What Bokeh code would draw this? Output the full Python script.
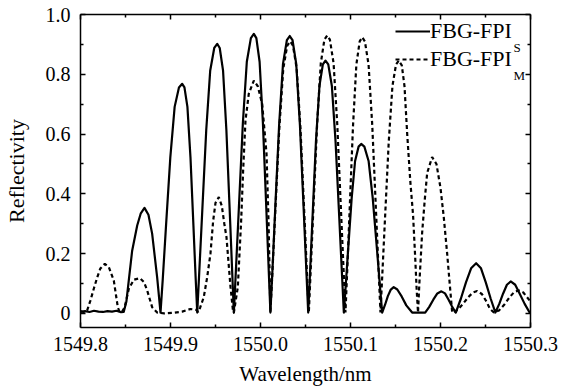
from bokeh.plotting import figure
from bokeh.models import Range1d, LinearAxis, FixedTicker, Legend, LegendItem, Label, CustomJSTickFormatter
from bokeh.embed import file_html
from bokeh.resources import INLINE

# ---- data ----
wl_s = [1549.800, 1549.805, 1549.810, 1549.815, 1549.820, 1549.825, 1549.830, 1549.835, 1549.840, 1549.845,
        1549.848, 1549.851, 1549.854, 1549.8574, 1549.863, 1549.867, 1549.8711, 1549.8755, 1549.8796, 1549.8852, 1549.8889,
        1549.8914, 1549.895, 1549.8998, 1549.9046, 1549.9094, 1549.913, 1549.9155, 1549.9188, 1549.9222, 1549.9255, 1549.928, 1549.9297,
        1549.9319, 1549.9353, 1549.9397, 1549.9441, 1549.9486, 1549.9519, 1549.9547, 1549.9584, 1549.9621, 1549.9658, 1549.9686, 1549.9704,
        1549.9726, 1549.976, 1549.9804, 1549.9848, 1549.9893, 1549.9926, 1549.9954, 1549.999, 1550.0027, 1550.0064, 1550.0092, 1550.011,
        1550.0132, 1550.0164, 1550.0207, 1550.025, 1550.0293, 1550.0325, 1550.0356, 1550.0397, 1550.0438, 1550.0479, 1550.051, 1550.053,
        1550.0549, 1550.0578, 1550.0616, 1550.0655, 1550.0693, 1550.0722, 1550.0753, 1550.0793, 1550.0834, 1550.0875, 1550.0906, 1550.0926,
        1550.0945, 1550.0974, 1550.1013, 1550.1051, 1550.109, 1550.1119, 1550.1154, 1550.1201, 1550.1247, 1550.1294, 1550.1329, 1550.1352,
        1550.1385, 1550.1415, 1550.1448, 1550.148, 1550.152, 1550.157, 1550.162, 1550.1685, 1550.175, 1550.183,
        1550.1875, 1550.192, 1550.1965, 1550.201, 1550.205, 1550.209, 1550.213, 1550.217,
        1550.2227, 1550.2283, 1550.234, 1550.2396, 1550.245, 1550.2503, 1550.2557, 1550.261,
        1550.2653, 1550.2695, 1550.2738, 1550.278, 1550.283, 1550.288, 1550.2935, 1550.299, 1550.300]
r_s = [0.005, 0.008, 0.005, 0.009, 0.006, 0.005, 0.008, 0.006, 0.009, 0.004,
       0.005, 0.04, 0.12, 0.21, 0.294, 0.335, 0.353, 0.33, 0.267, 0.12, 0.003,
       0.115, 0.292, 0.522, 0.691, 0.756, 0.768, 0.756, 0.691, 0.522, 0.292, 0.115, 0.003,
       0.135, 0.343, 0.613, 0.812, 0.888, 0.902, 0.888, 0.812, 0.613, 0.343, 0.135, 0.003,
       0.140, 0.355, 0.636, 0.842, 0.921, 0.935, 0.921, 0.842, 0.636, 0.355, 0.140, 0.003,
       0.139, 0.353, 0.631, 0.835, 0.914, 0.928, 0.914, 0.835, 0.631, 0.353, 0.139, 0.003,
       0.127, 0.321, 0.575, 0.761, 0.833, 0.846, 0.833, 0.761, 0.575, 0.321, 0.127, 0.003,
       0.085, 0.215, 0.386, 0.510, 0.558, 0.567, 0.558, 0.510, 0.386, 0.215, 0.085, 0.003,
       0.03, 0.058, 0.08, 0.088, 0.08, 0.056, 0.027, 0.003, 0.003, 0.003,
       0.022, 0.046, 0.067, 0.074, 0.067, 0.046, 0.022, 0.003,
       0.05, 0.104, 0.151, 0.168, 0.151, 0.104, 0.05, 0.003,
       0.032, 0.066, 0.096, 0.107, 0.096, 0.066, 0.032, 0.003, 0.003]

wl_m = [1549.800, 1549.804, 1549.8074,
        1549.811, 1549.815, 1549.8185, 1549.822, 1549.827, 1549.8315, 1549.837, 1549.8395, 1549.8415, 1549.8435,
        1549.8455, 1549.849, 1549.8537, 1549.8593, 1549.866, 1549.8705, 1549.8741, 1549.8796, 1549.8852,
        1549.893, 1549.903, 1549.913, 1549.922, 1549.9285, 1549.931,
        1549.933, 1549.937, 1549.9407, 1549.9444, 1549.9474, 1549.950, 1549.9537, 1549.957, 1549.9598, 1549.9622, 1549.9667, 1549.9696,
        1549.9704, 1549.9748, 1549.9785, 1549.9807, 1549.9833, 1549.987, 1549.9926, 1549.997, 1550.0019, 1550.0067, 1550.009, 1550.011,
        1550.0132, 1550.0165, 1550.0209, 1550.0253, 1550.0297, 1550.033, 1550.0361, 1550.0402, 1550.0444, 1550.0485, 1550.0516, 1550.0537,
        1550.0557, 1550.0588, 1550.0629, 1550.067, 1550.071, 1550.0741, 1550.0771, 1550.0812, 1550.0853, 1550.0893, 1550.0924, 1550.0944,
        1550.0963, 1550.0991, 1550.1028, 1550.1065, 1550.1102, 1550.113, 1550.116, 1550.1201, 1550.1242, 1550.1282, 1550.1313, 1550.1333,
        1550.1353, 1550.1384, 1550.1425, 1550.1466, 1550.1506, 1550.1537, 1550.157, 1550.160, 1550.163, 1550.1665, 1550.1695, 1550.172, 1550.1735, 1550.175,
        1550.1765, 1550.1796, 1550.1825, 1550.1852, 1550.1907, 1550.1955, 1550.200, 1550.2037, 1550.2074, 1550.2105, 1550.213,
        1550.2148, 1550.219, 1550.225, 1550.231, 1550.236, 1550.2407, 1550.246, 1550.251, 1550.255, 1550.2593,
        1550.265, 1550.271, 1550.277, 1550.282, 1550.287, 1550.292, 1550.296, 1550.300]
r_m = [0.008, 0.005, 0.01,
       0.043, 0.085, 0.12, 0.15, 0.166, 0.155, 0.11, 0.06, 0.02, 0.005,
       0.003, 0.02, 0.083, 0.113, 0.118, 0.105, 0.077, 0.021, 0.003,
       0.0, 0.002, 0.006, 0.015, 0.012, 0.005,
       0.02, 0.055, 0.12, 0.2, 0.31, 0.37, 0.389, 0.36, 0.3, 0.255, 0.088, 0.003,
       0.003, 0.088, 0.31, 0.478, 0.645, 0.735, 0.779, 0.76, 0.70, 0.534, 0.3, 0.003,
       0.137, 0.346, 0.619, 0.819, 0.896, 0.91, 0.896, 0.819, 0.619, 0.346, 0.137, 0.003,
       0.14, 0.353, 0.632, 0.837, 0.916, 0.93, 0.916, 0.837, 0.632, 0.353, 0.14, 0.003,
       0.139, 0.351, 0.628, 0.832, 0.910, 0.924, 0.910, 0.832, 0.628, 0.351, 0.139, 0.003,
       0.127, 0.321, 0.575, 0.761, 0.833, 0.846, 0.83, 0.76, 0.6, 0.44, 0.33, 0.18, 0.08, 0.003,
       0.1, 0.27, 0.38, 0.47, 0.523, 0.5, 0.42, 0.32, 0.2, 0.09, 0.003,
       0.004, 0.012, 0.032, 0.055, 0.07, 0.075, 0.065, 0.04, 0.015, 0.003,
       0.01, 0.03, 0.055, 0.072, 0.077, 0.07, 0.055, 0.04]

x_ticks = [1549.8, 1549.9, 1550.0, 1550.1, 1550.2, 1550.3]
x_tick_labels = ["1549.8", "1549.9", "1550.0", "1550.1", "1550.2", "1550.3"]
x_minor = [1549.85, 1549.95, 1550.05, 1550.15, 1550.25]
y_ticks = [0, 0.2, 0.4, 0.6, 0.8, 1.0]
y_tick_labels = ["0", "0.2", "0.4", "0.6", "0.8", "1.0"]
y_minor = [0.1, 0.3, 0.5, 0.7, 0.9]
series_names = ["FBG-FPI", "FBG-FPI"]
subscripts = ["S", "M"]
x_label = "Wavelength/nm"
y_label = "Reflectivity"

FONT = "Liberation Serif"

p = figure(width=564, height=392, output_backend="svg", toolbar_location=None,
           x_range=Range1d(1549.8, 1550.3), y_range=Range1d(-0.047, 1.0),
           min_border_left=80, min_border_right=34, min_border_top=14, min_border_bottom=65,
           background_fill_color="white", border_fill_color="white")
p.outline_line_color = None
p.grid.visible = False

xt = FixedTicker(ticks=x_ticks, minor_ticks=x_minor)
yt = FixedTicker(ticks=y_ticks, minor_ticks=y_minor)

LOOKUP = "const k = vals.findIndex(v => Math.abs(v - tick) < 1e-6); return k >= 0 ? labs[k] : '';"

xa = p.xaxis[0]
ya = p.yaxis[0]
xa.ticker = xt
ya.ticker = yt
xa.formatter = CustomJSTickFormatter(args=dict(vals=x_ticks, labs=x_tick_labels), code=LOOKUP)
ya.formatter = CustomJSTickFormatter(args=dict(vals=y_ticks, labs=y_tick_labels), code=LOOKUP)
xa.axis_label = x_label
ya.axis_label = y_label

top = LinearAxis(ticker=xt, major_label_text_font_size="9px", major_label_text_alpha=0,
                 major_label_standoff=0)
right = LinearAxis(ticker=yt, major_label_text_font_size="1px", major_label_text_alpha=0,
                   major_label_standoff=0)
p.add_layout(top, "above")
p.add_layout(right, "right")

for ax in [xa, ya, top, right]:
    ax.axis_line_color = "black"
    ax.axis_line_width = 1.5
    ax.major_tick_in = 5
    ax.major_tick_out = 0
    ax.minor_tick_in = 3
    ax.minor_tick_out = 0
    ax.major_tick_line_color = "black"
    ax.minor_tick_line_color = "black"
    ax.major_tick_line_width = 1.5
    ax.minor_tick_line_width = 1.5

for ax in [xa, ya]:
    ax.major_label_text_font = FONT
    ax.major_label_text_font_size = "20px"
    ax.major_label_text_color = "black"
    ax.axis_label_text_font = FONT
    ax.axis_label_text_font_style = "normal"
    ax.axis_label_text_color = "black"

xa.major_label_standoff = 9
xa.axis_label_text_font_size = "21px"
xa.axis_label_standoff = 8
ya.major_label_standoff = 10
ya.axis_label_text_font_size = "22px"
ya.axis_label_standoff = 14

r1 = p.line(wl_s, r_s, line_color="black", line_width=2.2, line_join="round")
r2 = p.line(wl_m, r_m, line_color="black", line_width=2.2, line_dash="4 3")

legend = Legend(items=[LegendItem(label=series_names[0], renderers=[r1]),
                       LegendItem(label=series_names[1], renderers=[r2])],
                location="top_right", glyph_width=35, glyph_height=28, label_height=28,
                label_width=97, label_standoff=0, spacing=0, padding=0, margin=3,
                border_line_color=None, background_fill_alpha=0,
                label_text_font=FONT, label_text_font_size="22px", label_text_color="black")
p.add_layout(legend)

sub_x = 1550.2811
for txt, yy in zip(subscripts, [0.888, 0.796]):
    p.add_layout(Label(x=sub_x, y=yy, text=txt, text_font=FONT, text_font_size="13px",
                       text_color="black", text_baseline="alphabetic"))

open("out.html", "w").write(file_html(p, INLINE))
